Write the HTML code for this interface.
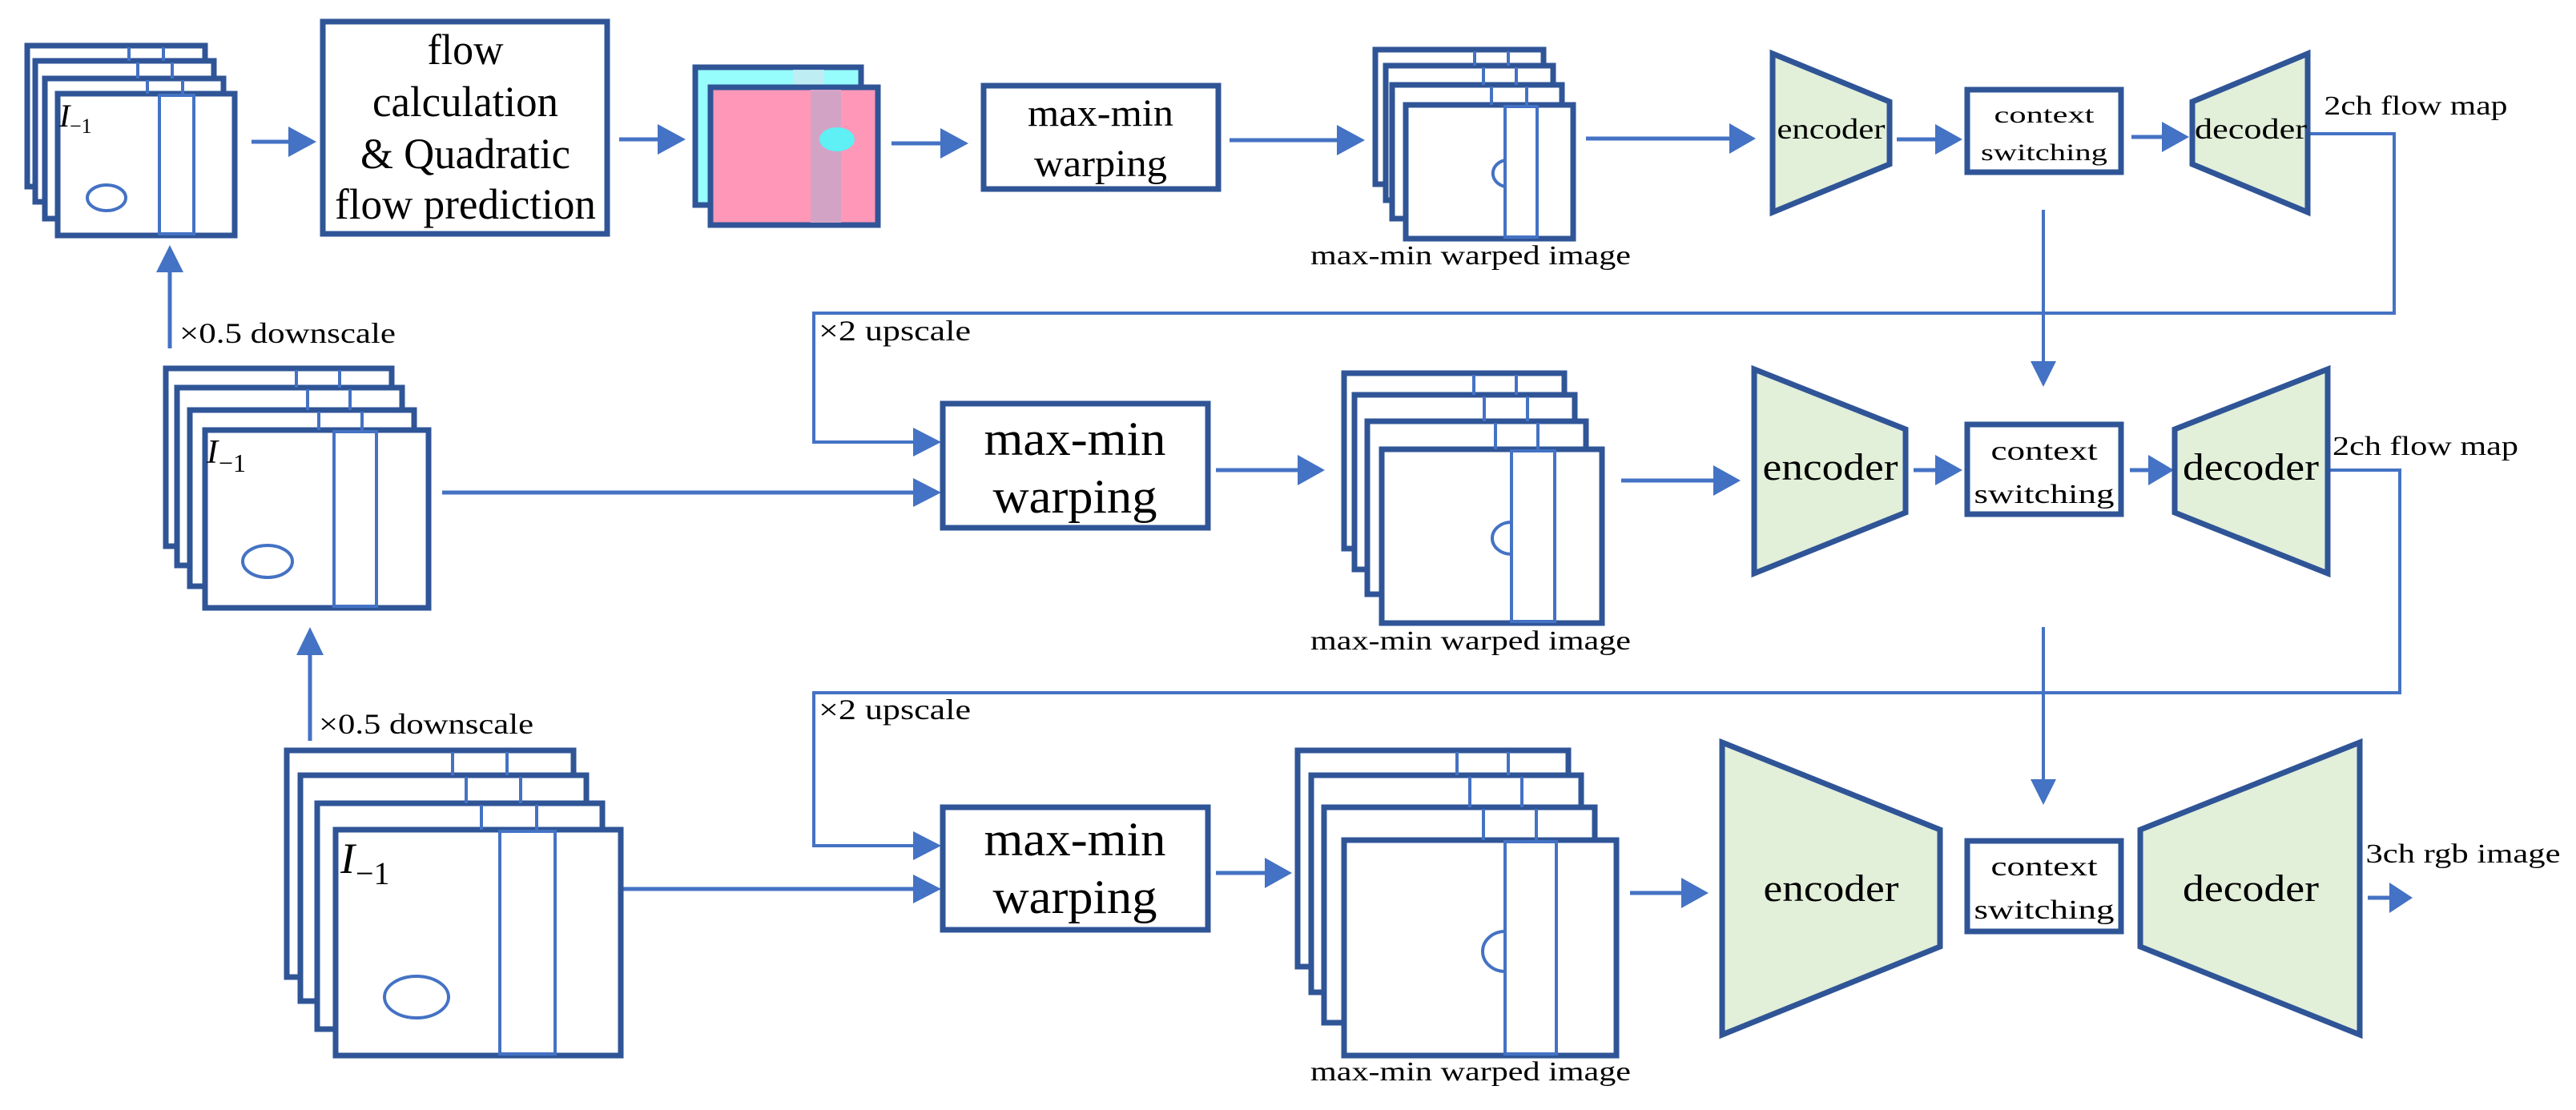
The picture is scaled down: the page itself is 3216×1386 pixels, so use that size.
<!DOCTYPE html>
<html><head><meta charset="utf-8"><style>html,body{margin:0;padding:0;background:#fff}svg{display:block}text{font-family:"Liberation Serif",serif}</style></head>
<body>
<svg xmlns="http://www.w3.org/2000/svg" width="3216" height="1386" viewBox="0 0 3216 1386" font-family="'Liberation Serif', serif">
<g id="arrows" fill="#4472c4" stroke="#4472c4" stroke-width="5">
<line x1="314" y1="177" x2="362" y2="177"/><polygon points="360,158 395,177 360,196" stroke="none"/>
<line x1="773" y1="174" x2="823" y2="174"/><polygon points="821,155 856,174 821,193" stroke="none"/>
<line x1="1113" y1="179" x2="1176" y2="179"/><polygon points="1174,160 1209,179 1174,198" stroke="none"/>
<line x1="1535" y1="175" x2="1671" y2="175"/><polygon points="1669,156 1704,175 1669,194" stroke="none"/>
<line x1="1980" y1="173" x2="2161" y2="173"/><polygon points="2159,154 2192,173 2159,192" stroke="none"/>
<line x1="2368" y1="174" x2="2418" y2="174"/><polygon points="2416,155 2450,174 2416,193" stroke="none"/>
<line x1="2661" y1="171" x2="2701" y2="171"/><polygon points="2699,152 2733,171 2699,190" stroke="none"/>
<line x1="212" y1="435" x2="212" y2="338"/><polygon points="195,340 212,306 229,340" stroke="none"/>
<line x1="387" y1="925" x2="387" y2="816"/><polygon points="370,818 387,783 404,818" stroke="none"/>
<line x1="552" y1="615" x2="1142" y2="615"/><polygon points="1140,597 1175,615 1140,633" stroke="none"/>
<line x1="1518" y1="587" x2="1622" y2="587"/><polygon points="1620,568 1654,587 1620,606" stroke="none"/>
<line x1="2024" y1="600" x2="2141" y2="600"/><polygon points="2139,581 2173,600 2139,619" stroke="none"/>
<line x1="2389" y1="587" x2="2418" y2="587"/><polygon points="2416,568 2450,587 2416,606" stroke="none"/>
<line x1="2659" y1="587" x2="2684" y2="587"/><polygon points="2682,568 2714,587 2682,606" stroke="none"/>
<line x1="775" y1="1110" x2="1142" y2="1110"/><polygon points="1140,1092 1175,1110 1140,1128" stroke="none"/>
<line x1="1518" y1="1090" x2="1581" y2="1090"/><polygon points="1579,1071 1613,1090 1579,1109" stroke="none"/>
<line x1="2035" y1="1115" x2="2101" y2="1115"/><polygon points="2099,1096 2133,1115 2099,1134" stroke="none"/>
<line x1="2956" y1="1121" x2="2985" y2="1121"/><polygon points="2983,1102 3012,1121 2983,1140" stroke="none"/>
</g>
<g fill="none" stroke="#4472c4" stroke-width="4">
<polyline points="2881,167 2989,167 2989,391 1016,391 1016,552 1142,552"/>
<polyline points="2906,587 2996,587 2996,865 1016,865 1016,1056 1142,1056"/>
<line x1="2551" y1="262" x2="2551" y2="453"/>
<line x1="2551" y1="783" x2="2551" y2="975"/>
</g>
<g fill="#4472c4">
<polygon points="1140,534 1175,552 1140,570"/>
<polygon points="1140,1038 1175,1056 1140,1074"/>
<polygon points="2535,451 2551,483 2567,451"/>
<polygon points="2535,973 2551,1005 2567,973"/>
</g>

<!-- stack 1 -->
<g stroke="#2f5597" stroke-width="7" fill="#fff">
<rect x="34" y="57" width="222" height="176"/>
<rect x="44" y="76" width="223" height="176"/>
<rect x="56" y="98" width="223" height="175"/>
<rect x="72" y="117" width="221" height="177"/>
</g>
<g stroke="#4472c4" stroke-width="4" fill="none">
<line x1="161" y1="59" x2="161" y2="76"/><line x1="204" y1="59" x2="204" y2="76"/>
<line x1="172" y1="78" x2="172" y2="98"/><line x1="215" y1="78" x2="215" y2="98"/>
<line x1="184" y1="100" x2="184" y2="117"/><line x1="228" y1="100" x2="228" y2="117"/>
<rect x="199" y="119" width="43" height="173"/>
<ellipse cx="133" cy="247" rx="24" ry="16"/>
</g>
<text x="74" y="158" font-size="40" font-style="italic">I</text><text x="87" y="166" font-size="26">−1</text>

<!-- flow box -->
<rect x="403" y="27" width="355" height="265" fill="#fff" stroke="#2f5597" stroke-width="7"/>
<g font-size="54" text-anchor="middle" fill="#000">
<text x="581" y="80" textLength="95" lengthAdjust="spacingAndGlyphs">flow</text>
<text x="581" y="145" textLength="232" lengthAdjust="spacingAndGlyphs">calculation</text>
<text x="581" y="210" textLength="262" lengthAdjust="spacingAndGlyphs">&amp; Quadratic</text>
<text x="581" y="273" textLength="326" lengthAdjust="spacingAndGlyphs">flow prediction</text>
</g>

<!-- flow image -->
<rect x="868" y="84" width="207" height="172" fill="#96fcfc" stroke="#2f5597" stroke-width="7"/>
<rect x="990" y="87" width="39" height="166" fill="#c8e8f0" opacity="0.8"/>
<rect x="887" y="109" width="209" height="172" fill="#fe97b8" stroke="#2f5597" stroke-width="7"/>
<rect x="1012" y="112" width="38" height="166" fill="#d3a3c6"/>
<ellipse cx="1045" cy="174" rx="22" ry="15" fill="#5ef0f4"/>

<!-- warping box 1 -->
<rect x="1228" y="107" width="293" height="129" fill="#fff" stroke="#2f5597" stroke-width="7"/>
<g font-size="48" text-anchor="middle">
<text x="1374" y="157" textLength="182" lengthAdjust="spacingAndGlyphs">max-min</text>
<text x="1374" y="220" textLength="166" lengthAdjust="spacingAndGlyphs">warping</text>
</g>

<!-- warped stack 1 -->
<g stroke="#2f5597" stroke-width="7" fill="#fff">
<rect x="1717" y="62" width="210" height="168"/>
<rect x="1730" y="82" width="209" height="168"/>
<rect x="1738" y="106" width="212" height="167"/>
<rect x="1755" y="131" width="209" height="167"/>
</g>
<g stroke="#4472c4" stroke-width="4" fill="none">
<line x1="1841" y1="64" x2="1841" y2="82"/><line x1="1883" y1="64" x2="1883" y2="82"/>
<line x1="1852" y1="84" x2="1852" y2="106"/><line x1="1893" y1="84" x2="1893" y2="106"/>
<line x1="1862" y1="108" x2="1862" y2="131"/><line x1="1906" y1="108" x2="1906" y2="131"/>
<rect x="1879" y="133" width="40" height="163"/>
<path d="M1879,200 A20,17 0 0 0 1879,233"/>
</g>
<text x="1836" y="330" font-size="34" text-anchor="middle" textLength="400" lengthAdjust="spacingAndGlyphs">max-min warped image</text>

<!-- enc/dec 1 -->
<g fill="#e2efd9" stroke="#2f5597" stroke-width="7">
<polygon points="2213,67 2359,127 2359,205 2213,265"/>
<polygon points="2737,127 2881,67 2881,265 2737,205"/>
<rect x="2456" y="112" width="192" height="103" fill="#fff"/>
</g>
<g font-size="36" text-anchor="middle">
<text x="2286" y="173" textLength="135" lengthAdjust="spacingAndGlyphs">encoder</text>
<text x="2810" y="173" textLength="140" lengthAdjust="spacingAndGlyphs">decoder</text>
<text x="2552" y="153" font-size="30" textLength="125" lengthAdjust="spacingAndGlyphs">context</text>
<text x="2552" y="200" font-size="30" textLength="158" lengthAdjust="spacingAndGlyphs">switching</text>
<text x="3016" y="143" font-size="34" textLength="229" lengthAdjust="spacingAndGlyphs">2ch flow map</text>
</g>

<g font-size="36">
<text x="224" y="428" textLength="270" lengthAdjust="spacingAndGlyphs">×0.5 downscale</text>
<text x="398" y="916" textLength="268" lengthAdjust="spacingAndGlyphs">×0.5 downscale</text>
<text x="1022" y="425" textLength="190" lengthAdjust="spacingAndGlyphs">×2 upscale</text>
<text x="1022" y="898" textLength="190" lengthAdjust="spacingAndGlyphs">×2 upscale</text>
</g>

<!-- stack 2 -->
<g stroke="#2f5597" stroke-width="7" fill="#fff">
<rect x="207" y="460" width="282" height="222"/>
<rect x="221" y="484" width="281" height="222"/>
<rect x="237" y="512" width="280" height="220"/>
<rect x="256" y="537" width="279" height="222"/>
</g>
<g stroke="#4472c4" stroke-width="4" fill="none">
<line x1="370" y1="462" x2="370" y2="484"/><line x1="424" y1="462" x2="424" y2="484"/>
<line x1="384" y1="486" x2="384" y2="512"/><line x1="437" y1="486" x2="437" y2="512"/>
<line x1="398" y1="514" x2="398" y2="537"/><line x1="452" y1="514" x2="452" y2="537"/>
<rect x="417" y="539" width="53" height="218"/>
<ellipse cx="334" cy="701" rx="31" ry="20"/>
</g>
<text x="258" y="578" font-size="42" font-style="italic">I</text><text x="273" y="589" font-size="32">−1</text>

<!-- warping box 2 -->
<rect x="1177" y="504" width="331" height="155" fill="#fff" stroke="#2f5597" stroke-width="7"/>
<g font-size="60" text-anchor="middle">
<text x="1342" y="568" textLength="227" lengthAdjust="spacingAndGlyphs">max-min</text>
<text x="1342" y="640" textLength="205" lengthAdjust="spacingAndGlyphs">warping</text>
</g>

<!-- warped stack 2 -->
<g stroke="#2f5597" stroke-width="7" fill="#fff">
<rect x="1678" y="466" width="275" height="219"/>
<rect x="1691" y="493" width="275" height="218"/>
<rect x="1707" y="526" width="273" height="216"/>
<rect x="1725" y="561" width="275" height="217"/>
</g>
<g stroke="#4472c4" stroke-width="4" fill="none">
<line x1="1840" y1="468" x2="1840" y2="493"/><line x1="1893" y1="468" x2="1893" y2="493"/>
<line x1="1853" y1="495" x2="1853" y2="526"/><line x1="1907" y1="495" x2="1907" y2="526"/>
<line x1="1867" y1="528" x2="1867" y2="561"/><line x1="1920" y1="528" x2="1920" y2="561"/>
<rect x="1887" y="563" width="54" height="213"/>
<path d="M1887,652 A24,20 0 0 0 1887,692"/>
</g>
<text x="1836" y="811" font-size="34" text-anchor="middle" textLength="400" lengthAdjust="spacingAndGlyphs">max-min warped image</text>

<!-- enc/dec 2 -->
<g fill="#e2efd9" stroke="#2f5597" stroke-width="7">
<polygon points="2190,461 2379,536 2379,640 2190,716"/>
<polygon points="2715,536 2906,461 2906,716 2715,640"/>
<rect x="2456" y="530" width="192" height="112" fill="#fff"/>
</g>
<g font-size="48" text-anchor="middle">
<text x="2285" y="599" textLength="169" lengthAdjust="spacingAndGlyphs">encoder</text>
<text x="2810" y="599" textLength="170" lengthAdjust="spacingAndGlyphs">decoder</text>
<text x="2552" y="574" font-size="34" textLength="133" lengthAdjust="spacingAndGlyphs">context</text>
<text x="2552" y="628" font-size="34" textLength="175" lengthAdjust="spacingAndGlyphs">switching</text>
<text x="3028" y="568" font-size="34" textLength="232" lengthAdjust="spacingAndGlyphs">2ch flow map</text>
</g>

<!-- stack 3 -->
<g stroke="#2f5597" stroke-width="7" fill="#fff">
<rect x="358" y="937" width="358" height="283"/>
<rect x="375" y="968" width="357" height="282"/>
<rect x="396" y="1003" width="356" height="282"/>
<rect x="419" y="1036" width="356" height="282"/>
</g>
<g stroke="#4472c4" stroke-width="4" fill="none">
<line x1="565" y1="939" x2="565" y2="968"/><line x1="633" y1="939" x2="633" y2="968"/>
<line x1="582" y1="970" x2="582" y2="1003"/><line x1="650" y1="970" x2="650" y2="1003"/>
<line x1="601" y1="1005" x2="601" y2="1036"/><line x1="670" y1="1005" x2="670" y2="1036"/>
<rect x="624" y="1038" width="69" height="278"/>
<ellipse cx="520" cy="1245" rx="40" ry="26"/>
</g>
<text x="425" y="1090" font-size="54" font-style="italic">I</text><text x="444" y="1104" font-size="40">−1</text>

<!-- warping box 3 -->
<rect x="1177" y="1008" width="331" height="153" fill="#fff" stroke="#2f5597" stroke-width="7"/>
<g font-size="60" text-anchor="middle">
<text x="1342" y="1068" textLength="227" lengthAdjust="spacingAndGlyphs">max-min</text>
<text x="1342" y="1140" textLength="205" lengthAdjust="spacingAndGlyphs">warping</text>
</g>

<!-- warped stack 3 -->
<g stroke="#2f5597" stroke-width="7" fill="#fff">
<rect x="1620" y="937" width="338" height="270"/>
<rect x="1637" y="968" width="337" height="271"/>
<rect x="1653" y="1008" width="338" height="269"/>
<rect x="1678" y="1049" width="340" height="269"/>
</g>
<g stroke="#4472c4" stroke-width="4" fill="none">
<line x1="1819" y1="939" x2="1819" y2="968"/><line x1="1883" y1="939" x2="1883" y2="968"/>
<line x1="1835" y1="970" x2="1835" y2="1008"/><line x1="1900" y1="970" x2="1900" y2="1008"/>
<line x1="1852" y1="1010" x2="1852" y2="1049"/><line x1="1918" y1="1010" x2="1918" y2="1049"/>
<rect x="1879" y="1051" width="64" height="265"/>
<path d="M1879,1163 A28,25 0 0 0 1879,1213"/>
</g>
<text x="1836" y="1349" font-size="34" text-anchor="middle" textLength="400" lengthAdjust="spacingAndGlyphs">max-min warped image</text>

<!-- enc/dec 3 -->
<g fill="#e2efd9" stroke="#2f5597" stroke-width="7">
<polygon points="2150,927 2422,1036 2422,1182 2150,1292"/>
<polygon points="2672,1036 2946,927 2946,1292 2672,1182"/>
<rect x="2456" y="1050" width="192" height="113" fill="#fff"/>
</g>
<g font-size="48" text-anchor="middle">
<text x="2286" y="1125" textLength="169" lengthAdjust="spacingAndGlyphs">encoder</text>
<text x="2810" y="1125" textLength="170" lengthAdjust="spacingAndGlyphs">decoder</text>
<text x="2552" y="1093" font-size="34" textLength="133" lengthAdjust="spacingAndGlyphs">context</text>
<text x="2552" y="1147" font-size="34" textLength="175" lengthAdjust="spacingAndGlyphs">switching</text>
<text x="3075" y="1077" font-size="34" textLength="243" lengthAdjust="spacingAndGlyphs">3ch rgb image</text>
</g>
</svg>
</body></html>
